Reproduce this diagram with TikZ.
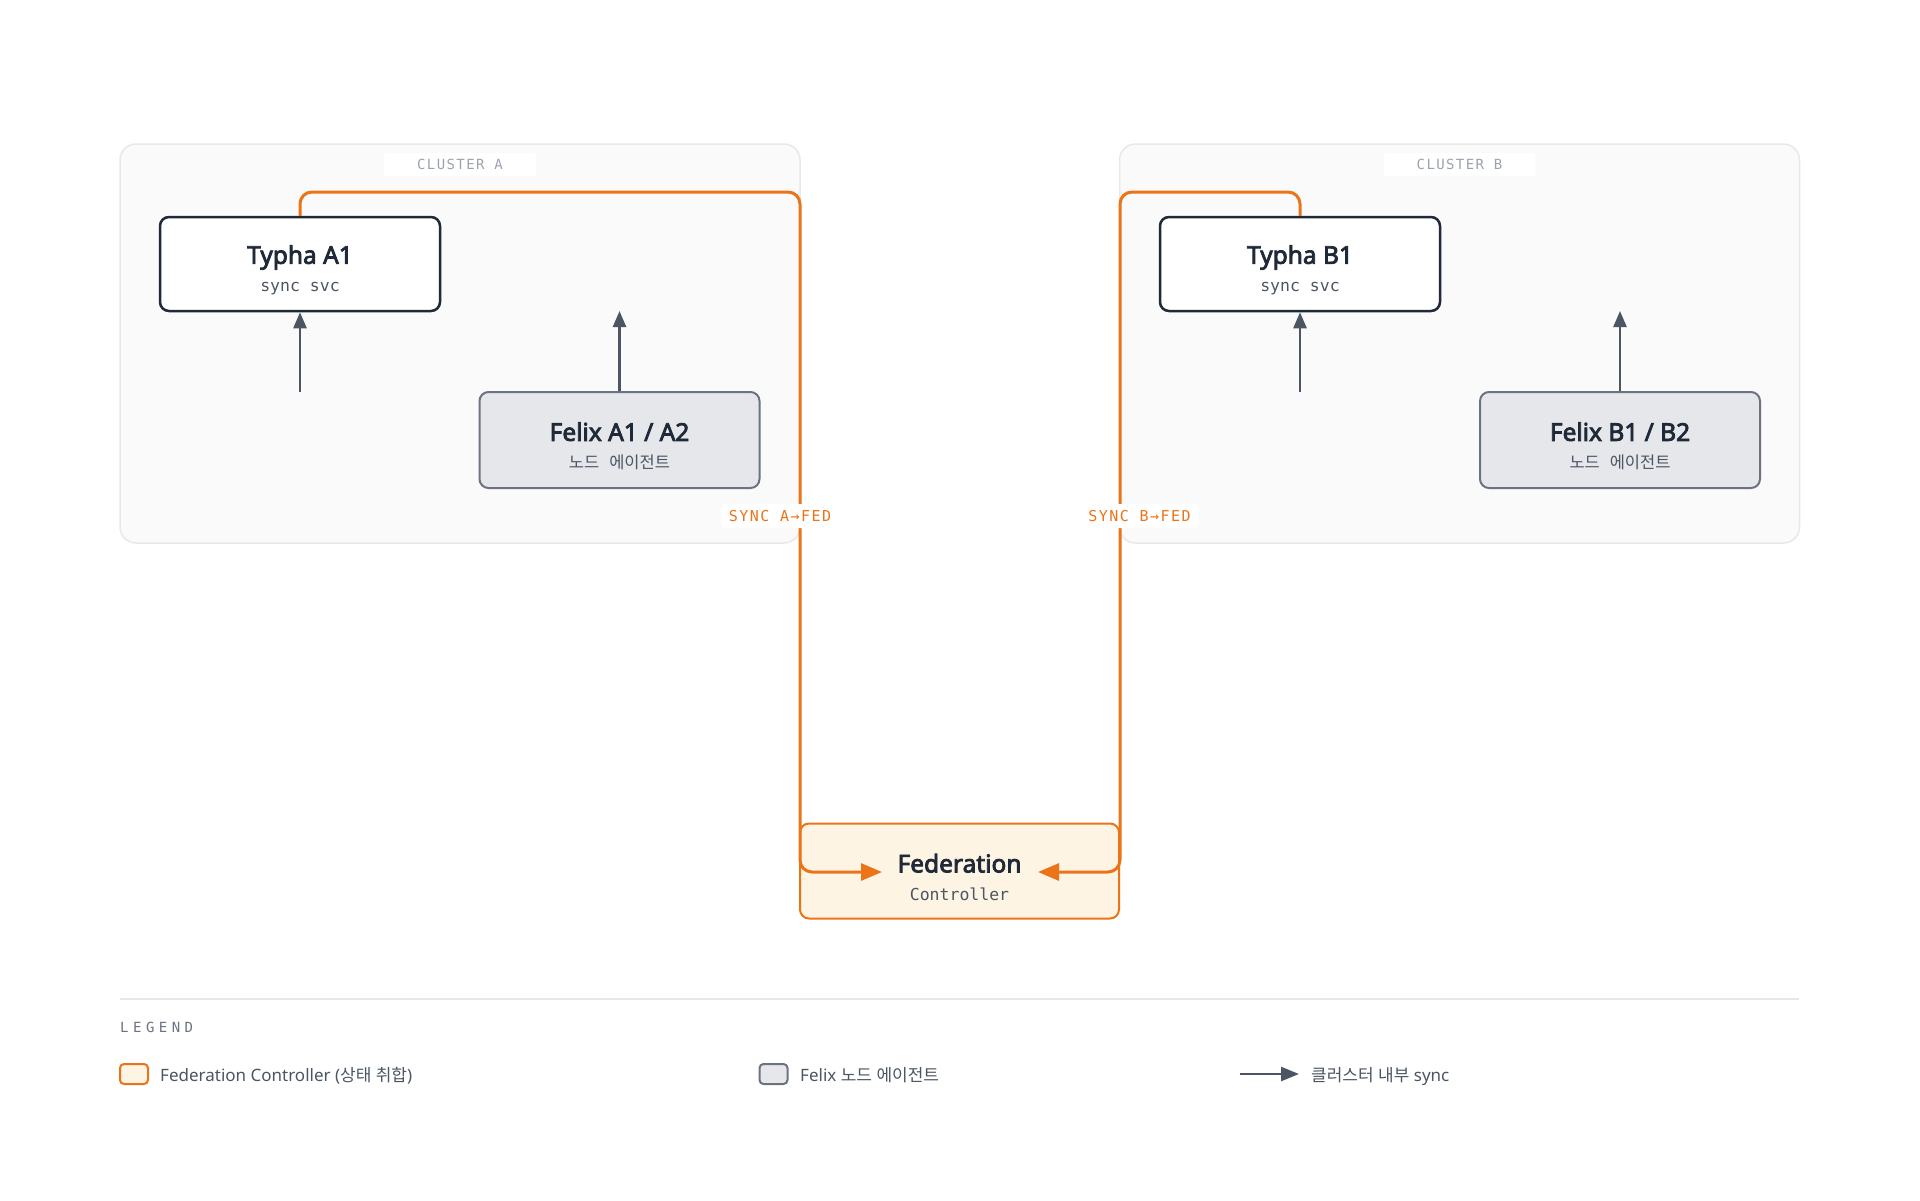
\documentclass[tikz,border=0pt]{standalone}
\usepackage{fontspec}
\setmainfont{Noto Sans}
\newfontfamily\titlefont{Noto Sans}[FakeBold=3.2]
\newfontfamily\krfont{Noto Sans CJK KR}
\newfontfamily\codefont{DejaVu Sans Mono}
\newfontfamily\capsfont[LetterSpace=10]{DejaVu Sans Mono}
\newfontfamily\legfont[LetterSpace=32]{DejaVu Sans Mono}
\usetikzlibrary{arrows.meta}
\definecolor{fedorange}{HTML}{EC7418}
\definecolor{fedfill}{HTML}{FEF4E4}
\definecolor{inkdark}{HTML}{1F2937}
\definecolor{inkmid}{HTML}{4B5563}
\definecolor{inklight}{HTML}{9CA3AF}
\definecolor{felixfill}{HTML}{E5E7EB}
\definecolor{felixedge}{HTML}{6B7280}
\definecolor{clusterfill}{HTML}{FAFAFA}
\definecolor{clusteredge}{HTML}{E8E8E8}
\newcommand{\boxtitle}[1]{{\fontsize{24.5}{28}\titlefont\rule{0pt}{31pt}#1}}
\newcommand{\boxsub}[1]{{\fontsize{16.5}{28}\codefont\color{inkmid}#1}}
\begin{document}
\begin{tikzpicture}[x=1pt, y=-1pt,
    cluster/.style={draw=clusteredge, line width=1.5pt, fill=clusterfill, rounded corners=16pt, minimum width=680pt, minimum height=399pt, inner sep=0pt},
    clustertag/.style={fill=white, rounded corners=3pt, minimum width=152pt, minimum height=23pt, inner sep=0pt, text=inklight, font=\fontsize{14}{14}\capsfont},
    typha/.style={draw=inkdark, line width=2.5pt, fill=white, rounded corners=9pt, minimum width=280pt, minimum height=94pt, inner sep=0pt, align=center, text=inkdark, font=\fontsize{16.5}{28}\selectfont},
    felix/.style={typha, draw=felixedge, line width=2pt, fill=felixfill, minimum height=96pt},
    fedbox/.style={typha, draw=fedorange, line width=2pt, fill=fedfill, minimum width=319pt, minimum height=95pt},
    innersync/.style={draw=inkmid, line width=2.5pt, -{Triangle[length=16pt, width=13pt]}},
    syncline/.style={draw=fedorange, line width=3pt, rounded corners=12pt, -{Triangle[length=21pt, width=17pt]}},
    synctag/.style={fill=white, rounded corners=4pt, inner xsep=8pt, inner ysep=0pt, minimum height=24pt, text=fedorange, font=\fontsize{15}{15}\capsfont},
    sepline/.style={draw=felixfill, line width=2pt},
    legtitle/.style={inner sep=0pt, text=felixedge, font=\fontsize{14}{14}\legfont},
    legtext/.style={inner sep=0pt, text=inkmid, font=\fontsize{17}{20}\selectfont},
    swatch/.style={line width=2pt, rounded corners=4pt, minimum width=28pt, minimum height=20pt, inner sep=0pt},
    legarrow/.style={draw=inkmid, line width=2.5pt, -{Triangle[length=18pt, width=14pt]}}]

    % canvas
    \fill[white] (0,0) rectangle (1920,1200);
    \useasboundingbox (0,0) rectangle (1920,1200);

    % Clusters
    \node[cluster] (clusA) at (460,343.5) {};
    \node[cluster] (clusB) at (1459.5,343.5) {};
    \node[clustertag] (tagA) at (460,164.5) {CLUSTER A};
    \node[clustertag] (tagB) at (1459.5,164.5) {CLUSTER B};

    % Typha and Felix in each cluster
    \node[typha] (typA) at (300,264) {\boxtitle{Typha A1}\\\boxsub{sync svc}};
    \node[felix] (felA) at (619.5,440) {\boxtitle{Felix A1 / A2}\\\boxsub{{\krfont 노드} {\krfont 에이전트}}};
    \node[typha] (typB) at (1300,264) {\boxtitle{Typha B1}\\\boxsub{sync svc}};
    \node[felix] (felB) at (1620,440) {\boxtitle{Felix B1 / B2}\\\boxsub{{\krfont 노드} {\krfont 에이전트}}};

    % in-cluster sync arrows
    \coordinate (srcA) at (300,392);
    \coordinate (dstA) at (619.5,311);
    \coordinate (srcB) at (1300,392);
    \coordinate (dstB) at (1620,311);
    \draw[innersync] (srcA) -- (typA.south);
    \draw[innersync] (felA.north) -- (dstA);
    \draw[innersync] (srcB) -- (typB.south);
    \draw[innersync] (felB.north) -- (dstB);

    % Federation controller
    \node[fedbox] (fed) at (959.5,871) {\boxtitle{Federation}\\\boxsub{Controller}};

    % sync paths to the federation
    \coordinate (bendA) at (800,192);
    \coordinate (fedA) at (882,872);
    \coordinate (bendB) at (1120,192);
    \coordinate (fedB) at (1038,872);
    \draw[syncline] (typA.north) |- (bendA) |- (fedA);
    \draw[syncline] (typB.north) |- (bendB) |- (fedB);
    \node[synctag] (syncA) at (780,516) {SYNC A→FED};
    \node[synctag] (syncB) at (1139.5,516) {SYNC B→FED};

    % Legend
    \coordinate (sepL) at (120,999);
    \coordinate (sepR) at (1799,999);
    \draw[sepline] (sepL) -- (sepR);
    \node[legtitle, anchor=base west] (legTitle) at (120,1032) {LEGEND};
    \node[swatch, draw=fedorange, fill=fedfill] (swFed) at (134,1074) {};
    \node[legtext, anchor=base west] (txFed) at (160,1081) {Federation Controller ({\krfont 상태} {\krfont 취합})};
    \node[swatch, draw=felixedge, fill=felixfill] (swFelix) at (773.5,1074) {};
    \node[legtext, anchor=base west] (txFelix) at (800,1081) {Felix {\krfont 노드} {\krfont 에이전트}};
    \coordinate (legArrL) at (1240,1074);
    \coordinate (legArrR) at (1299,1074);
    \draw[legarrow] (legArrL) -- (legArrR);
    \node[legtext, anchor=base west] (txSync) at (1311,1081) {{\krfont 클러스터} {\krfont 내부} sync};
\end{tikzpicture}
\end{document}
